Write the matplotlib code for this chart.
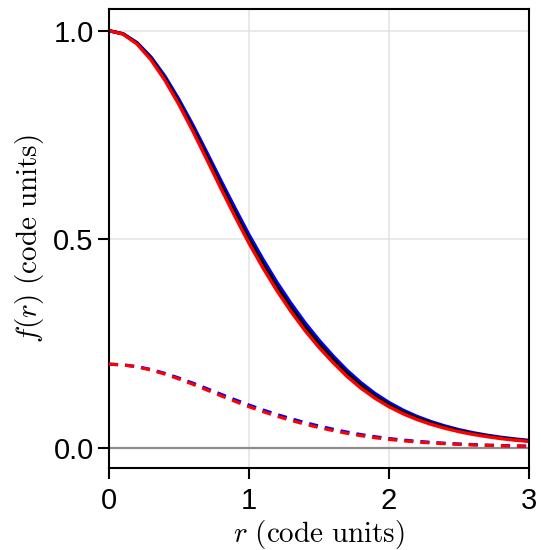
import matplotlib.pyplot as plt

# radius grid (code units)
r = [0.0, 0.1, 0.2, 0.3, 0.4, 0.5, 0.6, 0.7, 0.8, 0.9, 1.0,
     1.1, 1.2, 1.3, 1.4, 1.5, 1.6, 1.7, 1.8, 1.9, 2.0,
     2.1, 2.2, 2.3, 2.4, 2.5, 2.6, 2.7, 2.8, 2.9, 3.0]

# profiles, solid curves
f_blue = [1.000, 0.9928, 0.9714, 0.9368, 0.8906, 0.8348, 0.7732, 0.7072, 0.6400, 0.5744, 0.5105,
          0.4515, 0.3962, 0.3459, 0.2995, 0.2578, 0.2200, 0.1854, 0.1556, 0.1298, 0.1081,
          0.0899, 0.0748, 0.0623, 0.0518, 0.0429, 0.0357, 0.0297, 0.0247, 0.0206, 0.0172]
f_black = [1.000, 0.9922, 0.9695, 0.9330, 0.8850, 0.8280, 0.7650, 0.6980, 0.6300, 0.5640, 0.5000,
           0.4410, 0.3860, 0.3360, 0.2900, 0.2490, 0.2120, 0.1780, 0.1490, 0.1240, 0.1030,
           0.0855, 0.0710, 0.0590, 0.0490, 0.0405, 0.0336, 0.0279, 0.0231, 0.0192, 0.0160]
f_red = [1.000, 0.9917, 0.9680, 0.9300, 0.8805, 0.8225, 0.7582, 0.6900, 0.6210, 0.5543, 0.4900,
         0.4308, 0.3760, 0.3262, 0.2806, 0.2402, 0.2040, 0.1706, 0.1424, 0.1182, 0.0979,
         0.0811, 0.0672, 0.0557, 0.0462, 0.0381, 0.0315, 0.0261, 0.0215, 0.0178, 0.0148]

# profiles, dashed curves
g_blue = [0.2000, 0.1985, 0.1942, 0.1872, 0.1779, 0.1667, 0.1544, 0.1412, 0.1278, 0.1147, 0.1020,
          0.0902, 0.0792, 0.0692, 0.0599, 0.0516, 0.0440, 0.0371, 0.0311, 0.0260, 0.0216,
          0.0180, 0.0150, 0.0125, 0.0104, 0.0086, 0.0071, 0.0059, 0.0049, 0.0041, 0.0034]
g_red = [0.2000, 0.1983, 0.1936, 0.1860, 0.1761, 0.1645, 0.1516, 0.1380, 0.1242, 0.1109, 0.0980,
         0.0862, 0.0752, 0.0652, 0.0561, 0.0480, 0.0408, 0.0341, 0.0285, 0.0236, 0.0196,
         0.0162, 0.0134, 0.0111, 0.0092, 0.0076, 0.0063, 0.0052, 0.0043, 0.0036, 0.0030]

xticks = [0, 1, 2, 3]
yticks = [0.0, 0.5, 1.0]

plt.rcParams['font.family'] = ['Liberation Sans', 'DejaVu Sans']
plt.rcParams['mathtext.fontset'] = 'cm'

fig = plt.figure(figsize=(5.41, 5.5), dpi=100)
ax = fig.add_axes([109 / 541, 82 / 550, 420 / 541, 459 / 550])

ax.grid(True, color='#e3e3e3', linewidth=1.1, zorder=0)
ax.set_axisbelow(True)
ax.axhline(0.0, color='#8c8c8c', linewidth=1.6, zorder=1)

for f, c in [(f_blue, 'blue'), (f_black, 'black'), (f_red, 'red')]:
    ax.plot(r, f, color=c, linewidth=2.4, solid_capstyle='butt', zorder=2)

for g, c in [(g_blue, 'blue'), (g_red, 'red')]:
    ax.plot(r, g, color=c, linewidth=2.3, linestyle=(0, (2.85, 2.2)),
            dash_capstyle='butt', zorder=3)

ax.set_xlim(0, 3)
ax.set_ylim(-0.049, 1.052)
ax.set_xticks(xticks)
ax.set_xticklabels([str(t) for t in xticks])
ax.set_yticks(yticks)
ax.set_yticklabels([f'{t:.1f}' for t in yticks])

for side in ax.spines.values():
    side.set_linewidth(1.5)
ax.tick_params(axis='both', direction='out', length=8, width=1.5,
               labelsize=21, pad=3)
ax.tick_params(axis='x', pad=6)

ax.set_xlabel(r'$r\ \mathrm{(code\ units)}$', fontsize=21, labelpad=2)
ax.set_ylabel(r'$f(r)\ \mathrm{(code\ units)}$', fontsize=21, labelpad=5)

fig.savefig('out.png', dpi=100)
